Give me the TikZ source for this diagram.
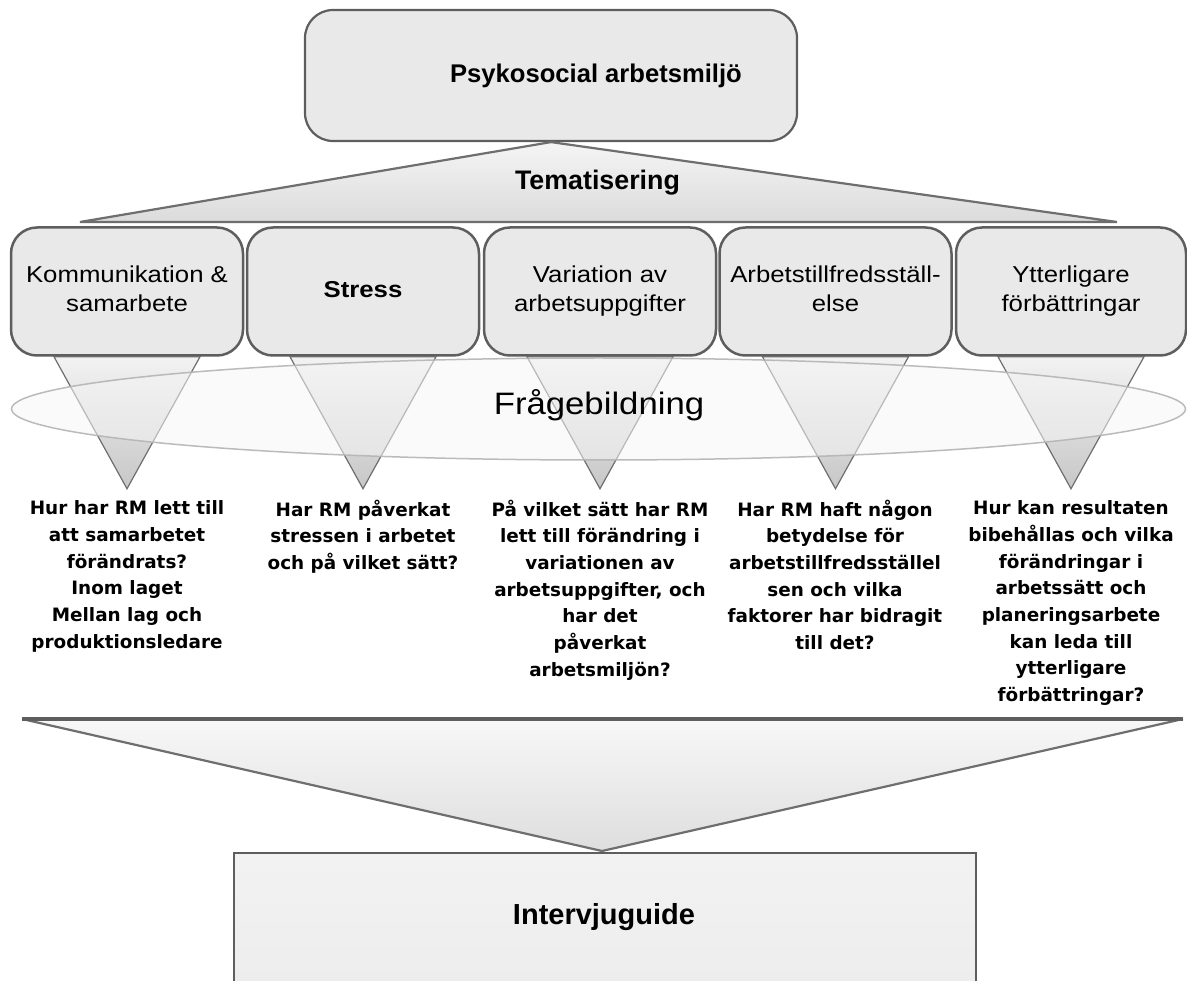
\documentclass[tikz,border=0pt]{standalone}
\usepackage{fontspec}
\setmainfont{Liberation Sans}
\newfontfamily\qfont{DejaVu Sans}
\newfontfamily\boxfont{Liberation Sans}[FakeStretch=1.12]
\usetikzlibrary{shapes.geometric}
\definecolor{boxline}{HTML}{5E5E5E}
\definecolor{boxfill}{HTML}{E9E9E9}
\definecolor{triline}{HTML}{6E6E6E}
\definecolor{ellline}{HTML}{B4B4B4}
\begin{document}
\begin{tikzpicture}[x=1pt,y=-1pt,
  topbox/.style={draw=boxline, line width=2.2pt, rounded corners=28pt, fill=boxfill,
    minimum width=492pt, minimum height=131pt, inner sep=0pt},
  themebox/.style={draw=boxline, line width=2.5pt, rounded corners=26pt, fill=boxfill,
    minimum width=232pt, minimum height=128pt, inner sep=0pt, align=center,
    font=\boxfont\fontsize{23}{29}\selectfont},
  smalltri/.style={draw=triline, line width=1.2pt, top color=white!95!black, bottom color=black!22},
  bigtri/.style={draw=triline, line width=2.2pt, top color=black!4, bottom color=black!14},
  qtext/.style={anchor=north, inner sep=0pt, align=center,
    font=\qfont\bfseries\fontsize{18.4}{26.7}\selectfont},
  label/.style={inner sep=0pt, anchor=base, font=\bfseries\fontsize{26}{30}\selectfont}
]
\useasboundingbox (0,0) rectangle (1187,981);

% top box
\node[topbox] (top) at (551,75.5) {};
\node[label, font=\bfseries\fontsize{25.6}{30}\selectfont] (toptext) at (596,83) {Psykosocial arbetsmiljö};

% tematisering triangle
\coordinate (tL) at (80,222);
\coordinate (tR) at (1117,222);
\draw[bigtri] (top.south) -- (tR) -- (tL) -- cycle;
\node[label, font=\bfseries\fontsize{26.8}{30}\selectfont] (tema) at (597.5,190) {Tematisering};

% theme boxes
\node[themebox] (b1) at (127,291.5) {\strut Kommunikation \&\\\strut samarbete};
\node[themebox] (b2) at (363,291.5) {\bfseries\strut Stress};
\node[themebox] (b3) at (600,291.5) {\strut Variation av\\\strut arbetsuppgifter};
\node[themebox] (b4) at (835.5,291.5) {\strut Arbetstillfredsställ-\\\strut else};
\node[themebox, minimum width=230pt] (b5) at (1071,291.5) {\strut Ytterligare\\\strut förbättringar};

% small triangles
\foreach \b in {b1,b2,b3,b4,b5}{
  \draw[smalltri] ([xshift=-73pt]\b.south) -- ([xshift=73pt]\b.south) -- ([yshift=-132pt]\b.south) -- cycle;
}

% ellipse
\node[ellipse, draw=ellline, line width=1.5pt, fill=black!4, fill opacity=0.55, draw opacity=0.9,
  minimum width=1174pt, minimum height=102pt, inner sep=0pt] (ell) at (598.5,409) {};
\node[inner sep=0pt, font=\boxfont\fontsize{31}{36}\selectfont] (frage) at (599,405) {Frågebildning};

% questions
\node[qtext] (q1) at (127,499.5) {\rule{0pt}{15pt}Hur har RM lett till\\att samarbetet\\förändrats?\\Inom laget\\Mellan lag och\\produktionsledare};
\node[qtext] (q2) at (363,499.5) {\rule{0pt}{15pt}Har RM påverkat\\stressen i arbetet\\och på vilket sätt?};
\node[qtext] (q3) at (600,499.5) {\rule{0pt}{15pt}På vilket sätt har RM\\lett till förändring i\\variationen av\\arbetsuppgifter, och\\har det\\påverkat\\arbetsmiljön?};
\node[qtext] (q4) at (835,499.5) {\rule{0pt}{15pt}Har RM haft någon\\betydelse för\\arbetstillfredsställel\\sen och vilka\\faktorer har bidragit\\till det?};
\node[qtext] (q5) at (1071,499.5) {\rule{0pt}{15pt}Hur kan resultaten\\bibehållas och vilka\\förändringar i\\arbetssätt och\\planeringsarbete\\kan leda till\\ytterligare\\förbättringar?};

% bottom funnel
\coordinate (fL) at (22,719);
\coordinate (fR) at (1183,719);
\coordinate (fA) at (602,851);
\path[top color=black!3, bottom color=black!13] (fL) -- (fR) -- (fA) -- cycle;
\draw[triline, line width=2.2pt, line join=round] (fL) -- (fA) -- (fR);
\draw[boxline, line width=3.5pt] (fL) -- (fR);

% bottom box
\path[top color=black!5, bottom color=black!7] (234,853) rectangle (976,981);
\draw[boxline, line width=2.2pt] (234,983) -- (234,853) -- (976,853) -- (976,983);
\node[label, font=\bfseries\fontsize{29}{32}\selectfont] (guide) at (604,924) {Intervjuguide};
\end{tikzpicture}
\end{document}
